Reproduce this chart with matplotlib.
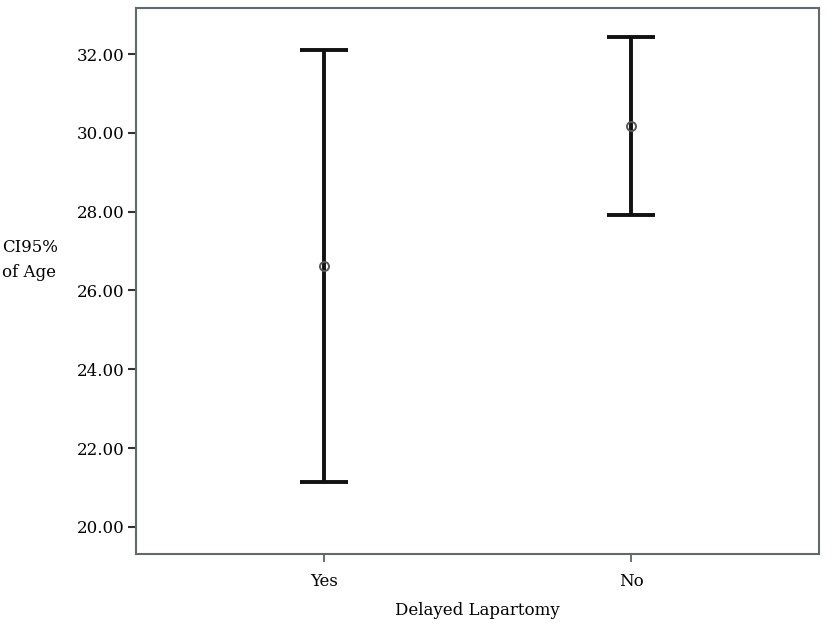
import matplotlib.pyplot as plt

# CI95% of Age by delayed laparotomy
groups = ["Yes", "No"]
means = [26.62, 30.17]
ci_low = [21.14, 27.91]
ci_high = [32.10, 32.44]

plt.rcParams['font.family'] = ['DejaVu Serif']

fig = plt.figure(figsize=(8.33, 6.32), dpi=100)
ax = fig.add_axes([0.1633, 0.1234, 0.8199, 0.8632])

x = list(range(len(groups)))
yerr = [[m - lo for m, lo in zip(means, ci_low)],
        [hi - m for m, hi in zip(means, ci_high)]]
ax.errorbar(x, means, yerr=yerr, fmt='none', ecolor='#111111',
            elinewidth=2.8, capsize=17, capthick=2.8)
ax.plot(x, means, 'o', markersize=6.5, markerfacecolor='none',
        markeredgecolor='#555555', markeredgewidth=1.4)

ax.set_xlim(-0.61, 1.61)
ax.set_ylim(19.31, 33.16)
ax.set_xticks(x)
ax.set_xticklabels(groups)
ax.set_yticks([20, 22, 24, 26, 28, 30, 32])
ax.set_yticklabels([f"{v:.2f}" for v in [20, 22, 24, 26, 28, 30, 32]])

for s in ax.spines.values():
    s.set_color('#5f6b6b')
    s.set_linewidth(1.5)
ax.tick_params(axis='y', length=6, width=1.5, color='#333333', labelsize=12, pad=2)
ax.tick_params(axis='x', length=6, width=1.2, color='#555555', labelsize=12, pad=8)

ax.set_xlabel("Delayed Lapartomy", fontsize=12, labelpad=8)
fig.text(0.002, 0.589, "CI95%\nof Age", fontsize=12, ha='left', va='center',
         linespacing=1.6)

fig.savefig("out.png", dpi=100)
